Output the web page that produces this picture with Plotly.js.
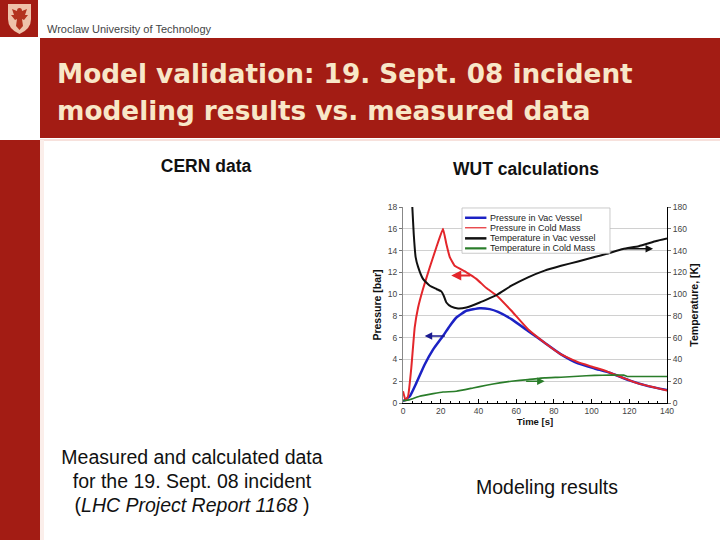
<!DOCTYPE html>
<html><head><meta charset="utf-8">
<script src="https://cdn.plot.ly/plotly-3.0.1.min.js"></script>
<style>
html,body{margin:0;padding:0;}
body{width:720px;height:540px;position:relative;overflow:hidden;background:#fff;}
#slide{position:absolute;left:0;top:0;}
#chart{position:absolute;left:340px;top:195px;width:380px;height:245px;}
</style></head><body>
<svg id="slide" width="720" height="540" xmlns="http://www.w3.org/2000/svg">
  <rect x="0" y="0" width="38" height="37" fill="#a31c14"/>
  <path d="M8 4 H31 V19 Q31 29 19.5 34 Q8 29 8 19 Z" fill="#eec2aa"/>
  <path d="M19.5 8 Q22 8 22 11 L27 9 L25 15 L28 15 L24 20 L22 19 L23 26 L19.5 30 L16 26 L17 19 L15 20 L11 15 L14 15 L12 9 L17 11 Q17 8 19.5 8 Z" fill="#b3331f"/>
  <rect x="40" y="38" width="680" height="100" fill="#a31c14"/>
  <rect x="0" y="140" width="40" height="400" fill="#a31c14"/>
  <rect x="40" y="139" width="680" height="2" fill="#f7e1dc"/>
  <rect x="40" y="140" width="4" height="400" fill="#fbeeea"/>
  <text x="47" y="33" font-family="Liberation Sans, Arial, sans-serif" font-size="11" fill="#444">Wroclaw University of Technology</text>
  <text x="57" y="83" font-family="DejaVu Sans, sans-serif" font-weight="bold" font-size="26.3" fill="#f8e7c8">Model validation: 19. Sept. 08 incident</text>
  <text x="57" y="120" font-family="DejaVu Sans, sans-serif" font-weight="bold" font-size="26.3" fill="#f8e7c8">modeling results vs. measured data</text>
  <text x="206" y="172" text-anchor="middle" font-family="Liberation Sans, Arial, sans-serif" font-weight="bold" font-size="17.5" fill="#111">CERN data</text>
  <text x="526" y="175" text-anchor="middle" font-family="Liberation Sans, Arial, sans-serif" font-weight="bold" font-size="17.5" fill="#111">WUT calculations</text>
  <text x="192" y="464" text-anchor="middle" font-family="Liberation Sans, Arial, sans-serif" font-size="19.5" fill="#111">Measured and calculated data</text>
  <text x="192" y="488" text-anchor="middle" font-family="Liberation Sans, Arial, sans-serif" font-size="19.5" fill="#111">for the 19. Sept. 08 incident</text>
  <text x="192" y="512" text-anchor="middle" font-family="Liberation Sans, Arial, sans-serif" font-size="19.5" fill="#111">(<tspan font-style="italic">LHC Project Report 1168</tspan> )</text>
  <text x="547" y="494" text-anchor="middle" font-family="Liberation Sans, Arial, sans-serif" font-size="19.5" fill="#111">Modeling results</text>
</svg>
<div id="chart"></div>
<script>
// ---- data ----
const seriesNames = ['Pressure in Vac Vessel','Pressure in Cold Mass','Temperature in Vac vessel','Temperature in Cold Mass'];

const timeVacP = [0, 3.6, 7.1, 11.5, 16.0, 21.2, 24.8, 28.3, 33.6, 40.7, 46.0, 50.4, 57.5, 66.3, 75.1, 83.8, 92.8, 101.6, 110, 120, 130, 140];
const pressVacVessel = [0.16, 0.62, 1.85, 3.54, 4.93, 6.16, 7.08, 7.85, 8.47, 8.71, 8.62, 8.37, 7.70, 6.62, 5.54, 4.47, 3.64, 3.17, 2.76, 2.08, 1.55, 1.18];

const timeColdP = [0, 1.4, 2.7, 4.4, 6.2, 8.0, 10.6, 14.2, 17.7, 21.2, 23.0, 24.8, 27.4, 33.6, 38.9, 44.2, 49.5, 57.5, 66.3, 75.1, 83.8, 92.8, 100, 107.8, 116.7, 125.5, 134.3, 140];
const pressColdMass = [1.08, 0.22, 0.62, 3.23, 6.93, 8.77, 10.47, 12.47, 14.3, 16.0, 14.6, 13.4, 12.6, 12.0, 11.4, 10.56, 9.9, 8.47, 6.77, 5.54, 4.47, 3.75, 3.35, 2.93, 2.31, 1.76, 1.39, 1.15];

const timeVacT = [4.8, 5.0, 5.7, 6.7, 8.0, 10.6, 14.2, 17.7, 20.3, 21.6, 23.0, 25.6, 29.2, 33.6, 40.7, 46.0, 50.0, 57.5, 66.3, 75.1, 83.8, 92.8, 101.6, 108, 116.7, 125, 134.3, 140];
const tempVacVessel = [185, 178, 155, 134, 125, 114, 107.7, 104.7, 102.5, 98.5, 92.3, 88.4, 86.8, 87.7, 92.3, 96.3, 99.5, 107.7, 115.4, 121.6, 126, 130, 134, 137, 141.5, 144, 148.7, 151];

const timeColdT = [0, 3.6, 8.8, 16, 21.2, 28.3, 37.1, 44.2, 51.3, 57.5, 66.3, 75.1, 83.8, 92.8, 101.6, 110, 117, 119, 125, 140];
const tempColdMass = [2, 3.1, 6.2, 8.6, 10.1, 10.8, 13.8, 16.3, 18.5, 20.0, 21.5, 23.1, 23.7, 24.6, 25.4, 25.6, 25.6, 24.4, 24.4, 24.4];

const xTickVals = [0, 20, 40, 60, 80, 100, 120, 140];
const yTickVals = [0, 2, 4, 6, 8, 10, 12, 14, 16, 18];
const y2TickVals = [0, 20, 40, 60, 80, 100, 120, 140, 160, 180];

// ---- styles ----
const colors = ['#1c22c4', '#e3262b', '#111111', '#2a7d2a'];
const widths = [2.5, 2, 2, 1.6];

const traces = [
  {x: timeColdT, y: tempColdMass, yaxis: 'y2', name: seriesNames[3], type: 'scatter', mode: 'lines',
   line: {color: colors[3], width: widths[3], shape: 'spline', smoothing: 0.4}},
  {x: timeVacP, y: pressVacVessel, name: seriesNames[0], type: 'scatter', mode: 'lines',
   line: {color: colors[0], width: widths[0], shape: 'spline', smoothing: 0.4}},
  {x: timeVacT, y: tempVacVessel, yaxis: 'y2', name: seriesNames[2], type: 'scatter', mode: 'lines',
   line: {color: colors[2], width: widths[2], shape: 'spline', smoothing: 0.4}},
  {x: timeColdP, y: pressColdMass, name: seriesNames[1], type: 'scatter', mode: 'lines',
   line: {color: colors[1], width: widths[1], shape: 'spline', smoothing: 0.3}}
];

// custom compact legend (rows like the original)
const legendRowsY = [0.945, 0.894, 0.840, 0.789];
const legendSampleW = [2.5, 1.2, 2.5, 2.2];
const shapes = [
  {type: 'rect', xref: 'paper', yref: 'paper', x0: 0.2235, x1: 0.784, y0: 0.764, y1: 0.995,
   fillcolor: '#ffffff', line: {color: '#bdbdbd', width: 0.8}, layer: 'above'}
];
const annotations = [];
seriesNames.forEach((nm, i) => {
  shapes.push({type: 'line', xref: 'paper', yref: 'paper', x0: 0.235, x1: 0.316, y0: legendRowsY[i], y1: legendRowsY[i],
    line: {color: colors[i], width: legendSampleW[i]}, layer: 'above'});
  annotations.push({xref: 'paper', yref: 'paper', x: 0.322, y: legendRowsY[i], xanchor: 'left', yanchor: 'middle',
    text: nm, showarrow: false, font: {size: 9, color: '#222'}});
});
// direction arrows
annotations.push(
  {x: 25.6, y: 11.7, ax: 36.5, ay: 11.7, xref: 'x', yref: 'y', axref: 'x', ayref: 'y', text: '', showarrow: true,
   arrowhead: 2, arrowsize: 1, arrowwidth: 2, arrowcolor: colors[1]},
  {x: 11.5, y: 6.16, ax: 23.0, ay: 6.16, xref: 'x', yref: 'y', axref: 'x', ayref: 'y', text: '', showarrow: true,
   arrowhead: 2, arrowsize: 1, arrowwidth: 1.5, arrowcolor: '#1a1a90'},
  {x: 132.6, y: 141.6, ax: 116.6, ay: 141.6, xref: 'x', yref: 'y2', axref: 'x', ayref: 'y2', text: '', showarrow: true,
   arrowhead: 2, arrowsize: 1, arrowwidth: 1.5, arrowcolor: colors[2]},
  {x: 75.1, y: 20, ax: 64.5, ay: 20, xref: 'x', yref: 'y2', axref: 'x', ayref: 'y2', text: '', showarrow: true,
   arrowhead: 2, arrowsize: 1, arrowwidth: 1.5, arrowcolor: colors[3]}
);

const tickFont = {family: 'Liberation Sans, Arial, sans-serif', size: 8.5, color: '#444'};
const titleFont = {family: 'Liberation Sans, Arial, sans-serif', size: 9.5, color: '#111'};
const yTitleFont = {family: 'Liberation Sans, Arial, sans-serif', size: 10.5, color: '#111'};

const layout = {
  width: 380, height: 245,
  margin: {l: 63, r: 53, t: 12, b: 37, pad: 0},
  paper_bgcolor: 'rgba(0,0,0,0)', plot_bgcolor: 'rgba(0,0,0,0)',
  showlegend: false,
  font: {family: 'Liberation Sans, Arial, sans-serif', size: 8, color: '#333'},
  xaxis: {range: [0, 140], tickvals: xTickVals, ticks: 'inside', ticklen: 4, tickcolor: '#000',
    showline: true, linecolor: '#000', linewidth: 1, showgrid: false, zeroline: false, tickfont: tickFont,
    minor: {dtick: 5, ticks: 'inside', ticklen: 2, tickcolor: '#000', showgrid: false},
    title: {text: '<b>Time [s]</b>', font: titleFont, standoff: 2}},
  yaxis: {range: [0, 18], tickvals: yTickVals, ticks: 'outside', ticklen: 3, tickcolor: '#777',
    showline: true, linecolor: '#888', linewidth: 1, showgrid: true, gridcolor: '#d0d0d0', gridwidth: 1,
    zeroline: false, tickfont: tickFont,
    title: {text: '<b>Pressure [bar]</b>', font: yTitleFont, standoff: 4}},
  yaxis2: {overlaying: 'y', side: 'right', range: [0, 180], tickvals: y2TickVals, ticks: 'outside', ticklen: 3,
    tickcolor: '#777', showline: true, linecolor: '#000', linewidth: 1, showgrid: false, zeroline: false,
    tickfont: tickFont,
    title: {text: '<b>Temperature, [K]</b>', font: yTitleFont, standoff: 4}},
  shapes: shapes,
  annotations: annotations
};

Plotly.newPlot('chart', traces, layout, {staticPlot: true, displayModeBar: false});
</script>
</body></html>
